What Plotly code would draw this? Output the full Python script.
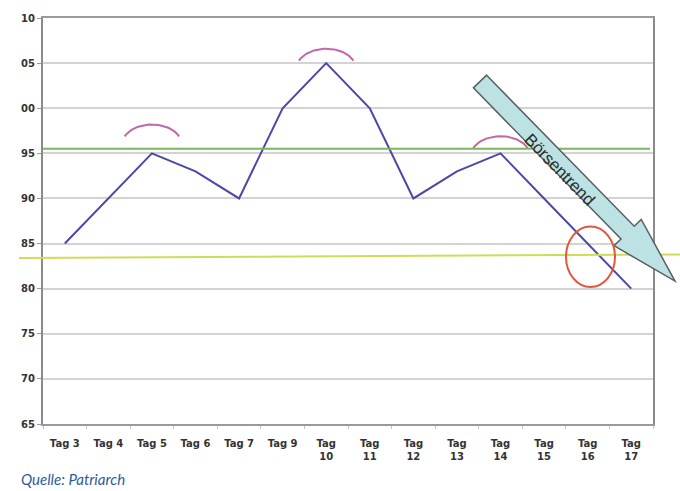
import numpy as np
import plotly.graph_objects as go

# Daily closing values
days = ["Tag 3", "Tag 4", "Tag 5", "Tag 6", "Tag 7", "Tag 9", "Tag 10",
        "Tag 11", "Tag 12", "Tag 13", "Tag 14", "Tag 15", "Tag 16", "Tag 17"]
values = [85, 90, 95, 93, 90, 100, 105, 100, 90, 93, 95, 90, 85, 80]

# Y ticks shown with two digits only
y_ticks = [65, 70, 75, 80, 85, 90, 95, 100, 105, 110]
y_tick_text = ["65", "70", "75", "80", "85", "90", "95", "00", "05", "10"]

# Reference levels
resistance = 95.5
support_left, support_right = 83.4, 83.8

# Peaks marked with an arc, and arc height above the peak
peak_days = ["Tag 5", "Tag 10", "Tag 14"]
arc_lift = [3.2, 1.6, 1.9]

x_idx = list(range(len(days)))
x_labels = [d if int(d.split()[1]) < 10 else d.replace(" ", "<br>") for d in days]

Y0, Y1 = 65, 110
W, H = 680, 491
ML, MR, MT, MB = 43, 27, 15, 67
L, R, T, B = ML, W - MR, MT, H - MB


def px(x):
    return (x - L) / (R - L)


def py(y):
    return (B - y) / (B - T)


def vy(v):
    return (v - Y0) / (Y1 - Y0)


fig = go.Figure()

fig.add_trace(go.Scatter(
    x=x_idx, y=values, mode="lines",
    line=dict(color="#4c48a6", width=2),
    hoverinfo="skip", showlegend=False,
))

# Arcs over the peaks
t = np.radians(np.linspace(25, 155, 40))
for day, lift in zip(peak_days, arc_lift):
    i = days.index(day)
    a, b = 0.69, 2.3
    top = values[i] + lift
    cy = top - b
    fig.add_trace(go.Scatter(
        x=i + a * np.cos(t), y=cy + b * np.sin(t), mode="lines",
        line=dict(color="#c267a8", width=2),
        hoverinfo="skip", showlegend=False,
    ))

shapes = []
# resistance line
shapes.append(dict(type="line", xref="paper", yref="paper",
                   x0=0, x1=px(650), y0=vy(resistance), y1=vy(resistance),
                   line=dict(color="#78b85a", width=2)))
# support line
shapes.append(dict(type="line", xref="paper", yref="paper",
                   x0=px(19), x1=px(680), y0=vy(support_left), y1=vy(support_right),
                   line=dict(color="#cfdc55", width=2)))

# Trend arrow
tail = np.array([480.0, 79.0])
tip = np.array([675.0, 280.0])
d = tip - tail
length = np.hypot(*d)
d = d / length
n = np.array([d[1], -d[0]])
hw, head_hw, head_at = 9.2, 19.0, 212.0
base = tail + d * head_at
pts = [tail + n * hw, base + n * hw, base + n * head_hw, tip,
       base - n * head_hw, base - n * hw, tail - n * hw]
path = "M " + " L ".join(f"{px(p[0]):.5f},{py(p[1]):.5f}" for p in pts) + " Z"
shapes.append(dict(type="path", xref="paper", yref="paper", path=path,
                   fillcolor="#bde2e4", line=dict(color="#5a5f60", width=1.5)))

# Circle at the support break
shapes.append(dict(type="circle", xref="paper", yref="paper",
                   x0=px(566), x1=px(615), y0=py(286), y1=py(225),
                   line=dict(color="#e4573f", width=2)))

angle = np.degrees(np.arctan2(d[1], d[0]))
annotations = [
    dict(text="Börsentrend", xref="paper", yref="paper",
         x=px(559), y=py(168), xanchor="center", yanchor="middle",
         showarrow=False, textangle=angle,
         font=dict(family="Liberation Sans, Arial", size=17, color="#2a2f2f")),
    dict(text="<i>Quelle: Patriarch</i>", xref="paper", yref="paper",
         x=px(19), y=py(479), xanchor="left", yanchor="middle", showarrow=False,
         font=dict(family="Lato, Open Sans", size=15, color="#2d5c9e")),
]

tick_font = dict(family="DejaVu Sans, Verdana", size=10, color="#333333")

fig.update_layout(
    width=W, height=H,
    margin=dict(l=ML, r=MR, t=MT, b=MB),
    paper_bgcolor="white", plot_bgcolor="white",
    shapes=shapes, annotations=annotations,
    xaxis=dict(
        range=[-0.5, len(days) - 0.5],
        tickmode="array", tickvals=x_idx,
        ticktext=[f"<b>{s}</b>" for s in x_labels],
        ticks="outside", ticklen=9, tickcolor="rgba(0,0,0,0)",
        showgrid=False, zeroline=False,
        showline=True, linecolor="#9a9a9a", linewidth=2, mirror=True,
        tickfont=tick_font,
        minor=dict(tickvals=[i - 0.5 for i in range(len(days) + 1)],
                   ticks="outside", ticklen=3, tickcolor="#c4c4c4", showgrid=False),
        fixedrange=True,
    ),
    yaxis=dict(
        range=[Y0, Y1],
        tickmode="array", tickvals=y_ticks,
        ticktext=[f"<b>{s}</b>" for s in y_tick_text],
        ticks="outside", ticklen=4, tickcolor="#999999",
        showgrid=True, gridcolor="#d3d3d3", gridwidth=1.5, zeroline=False,
        showline=True, linecolor="#8a8a8a", linewidth=2, mirror=True,
        tickfont=tick_font,
        fixedrange=True,
    ),
)

fig.write_html("out.html")
